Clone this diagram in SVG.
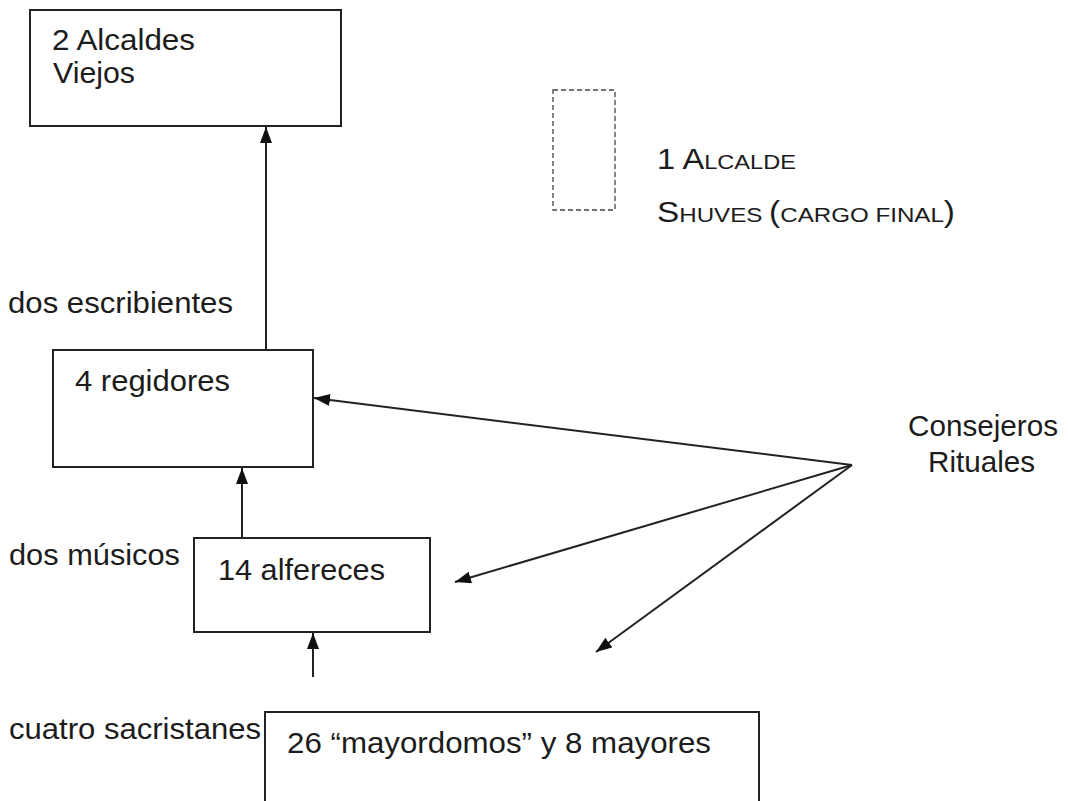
<svg xmlns="http://www.w3.org/2000/svg" width="1068" height="801" viewBox="0 0 1068 801">
<defs>
<style>
.box{fill:#fff;stroke:#222;stroke-width:2}
.t{font-family:"Liberation Sans",Arial,sans-serif;font-size:29px;fill:#1c1c1c}
.ln{stroke:#222;stroke-width:2;fill:none}
.dash{fill:none;stroke:#444;stroke-width:1.3;stroke-dasharray:5 3}
</style>
<marker id="ah" viewBox="0 0 16 12" refX="16" refY="6" markerWidth="16" markerHeight="12" markerUnits="userSpaceOnUse" orient="auto">
<path d="M0,0 L16,6 L0,12 z" fill="#111"/>
</marker>
</defs>
<rect width="1068" height="801" fill="#fff"/>
<g id="connectors">
<line class="ln" x1="266" y1="350" x2="266" y2="127" marker-end="url(#ah)"/>
<line class="ln" x1="242" y1="538" x2="242" y2="468" marker-end="url(#ah)"/>
<line class="ln" x1="313" y1="677" x2="313" y2="633" marker-end="url(#ah)"/>
<line class="ln" x1="852" y1="465" x2="314" y2="398" marker-end="url(#ah)"/>
<line class="ln" x1="852" y1="465" x2="455" y2="582" marker-end="url(#ah)"/>
<line class="ln" x1="852" y1="465" x2="596" y2="652" marker-end="url(#ah)"/>
</g>
<g id="alcaldes-viejos">
<rect class="box" x="30" y="10" width="311" height="116"/>
<text class="t" x="52" y="50" textLength="143" lengthAdjust="spacingAndGlyphs">2 Alcaldes</text>
<text class="t" x="53" y="83" textLength="82" lengthAdjust="spacingAndGlyphs">Viejos</text>
</g>
<g id="alcalde-shuves">
<rect class="dash" x="553" y="90" width="62" height="120"/>
<text class="t" x="657" y="169" textLength="139" lengthAdjust="spacingAndGlyphs" font-size="26">1 A<tspan font-size="21">LCALDE</tspan></text>
<text class="t" x="657" y="222" textLength="298" lengthAdjust="spacingAndGlyphs" font-size="26">S<tspan font-size="21">HUVES </tspan>(<tspan font-size="21">CARGO FINAL</tspan>)</text>
</g>
<g id="escribientes">
<text class="t" x="8" y="313" textLength="225" lengthAdjust="spacingAndGlyphs">dos escribientes</text>
</g>
<g id="regidores">
<rect class="box" x="53" y="350" width="260" height="117"/>
<text class="t" x="75" y="391" textLength="155" lengthAdjust="spacingAndGlyphs">4 regidores</text>
</g>
<g id="consejeros">
<text class="t" x="908" y="436" textLength="150" lengthAdjust="spacingAndGlyphs" font-size="27">Consejeros</text>
<text class="t" x="928" y="472" textLength="107" lengthAdjust="spacingAndGlyphs" font-size="27">Rituales</text>
</g>
<g id="musicos">
<text class="t" x="9" y="565" textLength="171" lengthAdjust="spacingAndGlyphs">dos músicos</text>
</g>
<g id="alfereces">
<rect class="box" x="194" y="538" width="236" height="94"/>
<text class="t" x="218" y="580" textLength="167" lengthAdjust="spacingAndGlyphs">14 alfereces</text>
</g>
<g id="sacristanes">
<text class="t" x="9" y="739" textLength="252" lengthAdjust="spacingAndGlyphs">cuatro sacristanes</text>
</g>
<g id="mayordomos">
<rect class="box" x="265" y="712" width="494" height="100"/>
<text class="t" x="287" y="753" textLength="424" lengthAdjust="spacingAndGlyphs">26 “mayordomos” y 8 mayores</text>
</g>
</svg>
